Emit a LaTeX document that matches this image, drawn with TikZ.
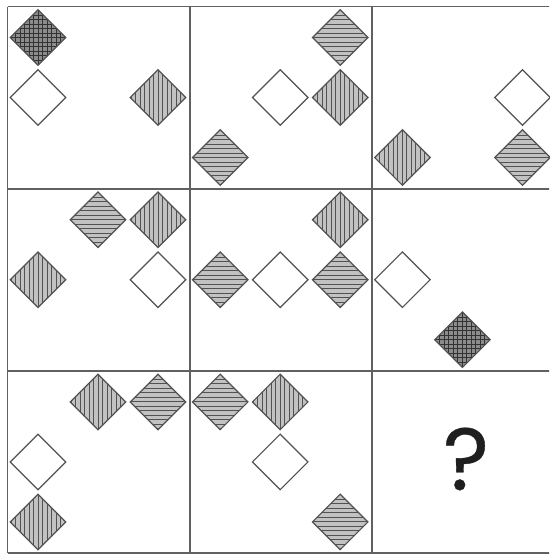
\documentclass[tikz,border=0pt]{standalone}
\usepackage{fontspec}
\setmainfont{Liberation Sans}
\newfontfamily\qfont[FakeBold=0.4]{Poppins}
\usetikzlibrary{shapes.geometric,calc}
\tikzset{
  gridline/.style={line width=1.8pt, draw=black!62},
  stripe/.style={line width=0.85pt, draw=black!68},
  dmdbase/.style={diamond, aspect=1, inner sep=0pt, minimum width=56pt, minimum height=56pt,
    draw=black!68, line width=1.2pt},
  blank/.style={dmdbase, fill=white},
  vstripe/.style={dmdbase, fill=black!24, path picture={
    \foreach \k in {-6,...,6}
      \draw[stripe] ($(path picture bounding box.center)+(\k*4.5,-30)$) -- ++(0,60);}},
  hstripe/.style={dmdbase, fill=black!24, path picture={
    \foreach \k in {-6,...,6}
      \draw[stripe] ($(path picture bounding box.center)+(-30,\k*4.5)$) -- ++(60,0);}},
  xhatch/.style={dmdbase, fill=black!45, path picture={
    \foreach \k in {-6,...,6}{
      \draw[stripe,draw=black!80] ($(path picture bounding box.center)+(\k*4.5,-30)$) -- ++(0,60);
      \draw[stripe,draw=black!80] ($(path picture bounding box.center)+(-30,\k*4.5)$) -- ++(60,0);}}},
}
% #1 name, #2 style, #3 cell column, #4 cell row, #5 column in cell, #6 row in cell
\newcommand\dmd[6]{\node[#2] (#1) at ({38+182.2*#3+60*#5},{37.5+182.2*#4+60*#6}) {};}
\begin{document}
\begin{tikzpicture}[x=1pt,y=-1pt]
\useasboundingbox (0,0) rectangle (549,557);
\fill[white] (0,0) rectangle (549,557);
\begin{scope}
\clip (0,0) rectangle (549,557);
\foreach \i in {0,1,2,3} {
  \draw[gridline] ({7.5+182.2*\i},6.5) -- ({7.5+182.2*\i},553.1);
  \draw[gridline] (7.5,{6.5+182.2*\i}) -- (560,{6.5+182.2*\i});
}
\end{scope}
% row 1
\dmd{a1}{xhatch}{0}{0}{0}{0}
\dmd{a2}{blank}{0}{0}{0}{1}
\dmd{a3}{vstripe}{0}{0}{2}{1}
\dmd{b1}{hstripe}{1}{0}{2}{0}
\dmd{b2}{blank}{1}{0}{1}{1}
\dmd{b3}{vstripe}{1}{0}{2}{1}
\dmd{b4}{hstripe}{1}{0}{0}{2}
\dmd{c1}{blank}{2}{0}{2}{1}
\dmd{c2}{vstripe}{2}{0}{0}{2}
\dmd{c3}{hstripe}{2}{0}{2}{2}
% row 2
\dmd{d1}{hstripe}{0}{1}{1}{0}
\dmd{d2}{vstripe}{0}{1}{2}{0}
\dmd{d3}{vstripe}{0}{1}{0}{1}
\dmd{d4}{blank}{0}{1}{2}{1}
\dmd{e1}{vstripe}{1}{1}{2}{0}
\dmd{e2}{hstripe}{1}{1}{0}{1}
\dmd{e3}{blank}{1}{1}{1}{1}
\dmd{e4}{hstripe}{1}{1}{2}{1}
\dmd{f1}{blank}{2}{1}{0}{1}
\dmd{f2}{xhatch}{2}{1}{1}{2}
% row 3
\dmd{g1}{vstripe}{0}{2}{1}{0}
\dmd{g2}{hstripe}{0}{2}{2}{0}
\dmd{g3}{blank}{0}{2}{0}{1}
\dmd{g4}{vstripe}{0}{2}{0}{2}
\dmd{h1}{hstripe}{1}{2}{0}{0}
\dmd{h2}{vstripe}{1}{2}{1}{0}
\dmd{h3}{blank}{1}{2}{1}{1}
\dmd{h4}{hstripe}{1}{2}{2}{2}
\node[text=black!88, font=\fontsize{88}{88}\qfont] (q) at (466,459) {?};
\end{tikzpicture}
\end{document}
